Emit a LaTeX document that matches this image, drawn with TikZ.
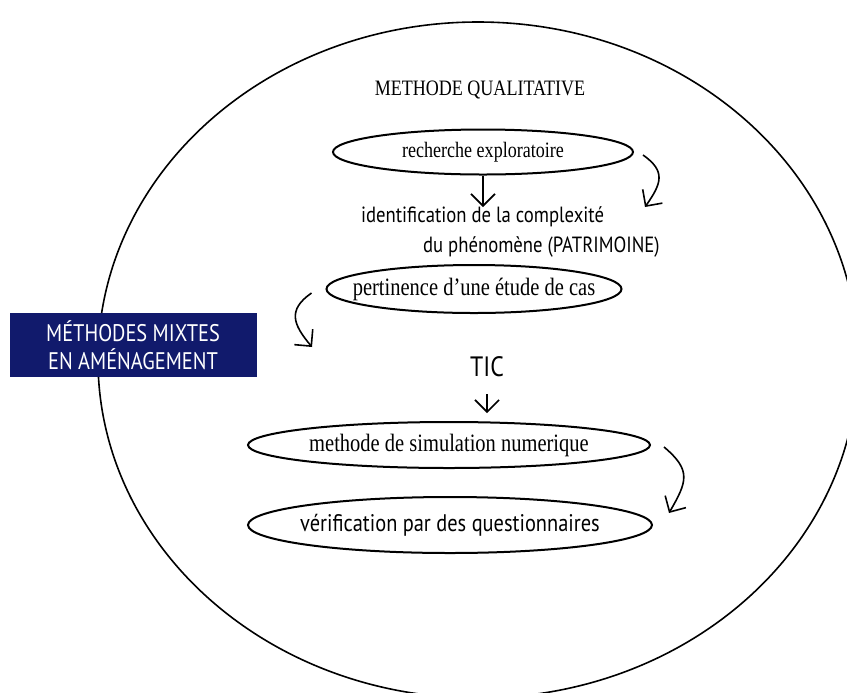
\documentclass[tikz,border=0pt]{standalone}
\usepackage{fontspec}
\setmainfont{Liberation Serif}[FakeStretch=0.82]
\newfontfamily\sansfont{PT Sans}[FakeStretch=0.85]
\usetikzlibrary{positioning,arrows.meta,shapes.geometric}
\definecolor{amnavy}{HTML}{111A6C}

\begin{document}
\begin{tikzpicture}[x=0.5pt,y=-0.5pt,font=\fontsize{12.5}{14}\selectfont]
  \tikzstyle{oval}=[draw,ellipse,line width=1pt,inner xsep=-15pt,inner ysep=0pt]
  \tikzstyle{barb}=[-{Straight Barb[length=6pt,width=12pt]},line width=0.8pt]
  \useasboundingbox (0,0) rectangle (847,692);
  \clip (0,0) rectangle (847,692);
  \node[draw,ellipse,line width=0.8pt,minimum width=380pt,minimum height=338pt] (world) at (478,360) {};
  \node[font=\fontsize{11}{13}\selectfont] (qual) at (480,90) {METHODE QUALITATIVE};
  \node[oval,minimum width=150pt,minimum height=22.5pt,font=\fontsize{11}{13}\selectfont] (rech) at (483,152) {recherche exploratoire};
  \node[anchor=west,align=left,font=\sansfont\fontsize{11}{15}\selectfont] (ident) at (354,232) {identification de la complexité\\\hspace*{31pt}du phénomène (PATRIMOINE)};
  \node[oval,minimum width=147.5pt,minimum height=24pt] (pert) at (474,289) {pertinence d'une étude de cas};
  \node[fill=amnavy,text=white,align=center,minimum width=123.5pt,minimum height=32pt,font=\sansfont\fontsize{12}{14}\selectfont] (mixte) at (133,345) {MÉTHODES MIXTES\\EN AMÉNAGEMENT};
  \node[font=\sansfont\fontsize{14}{16}\selectfont] (tic) at (487,367) {TIC};
  \node[oval,minimum width=201pt,minimum height=23pt] (meth) at (449,445) {methode de simulation numerique};
  \node[oval,minimum width=202pt,minimum height=28pt,font=\sansfont\fontsize{12}{14}\selectfont] (verif) at (450,525) {vérification par des questionnaires};
  % arrow ends
  \coordinate (tipA) at (645,207);
  \coordinate (tipB) at (312,347);
  \coordinate (tipC) at (669,513);
  \coordinate (tipD) at (483,207);
  \coordinate (tipE) at (487,413);
  \draw[barb] (rech) -- (tipD);
  \draw[barb] ([xshift=4.5pt,yshift=-1.5pt]rech.east) to[out=-35,in=55,looseness=1.4] (tipA);
  \draw[barb] ([xshift=-7pt,yshift=-2pt]pert.west) to[out=215,in=130,looseness=1.4] (tipB);
  \draw[barb] ([yshift=-5pt]tic.south) -- (tipE);
  \draw[barb] ([xshift=6.5pt,yshift=-1pt]meth.east) to[out=-40,in=60,looseness=1.4] (tipC);
\end{tikzpicture}
\end{document}
